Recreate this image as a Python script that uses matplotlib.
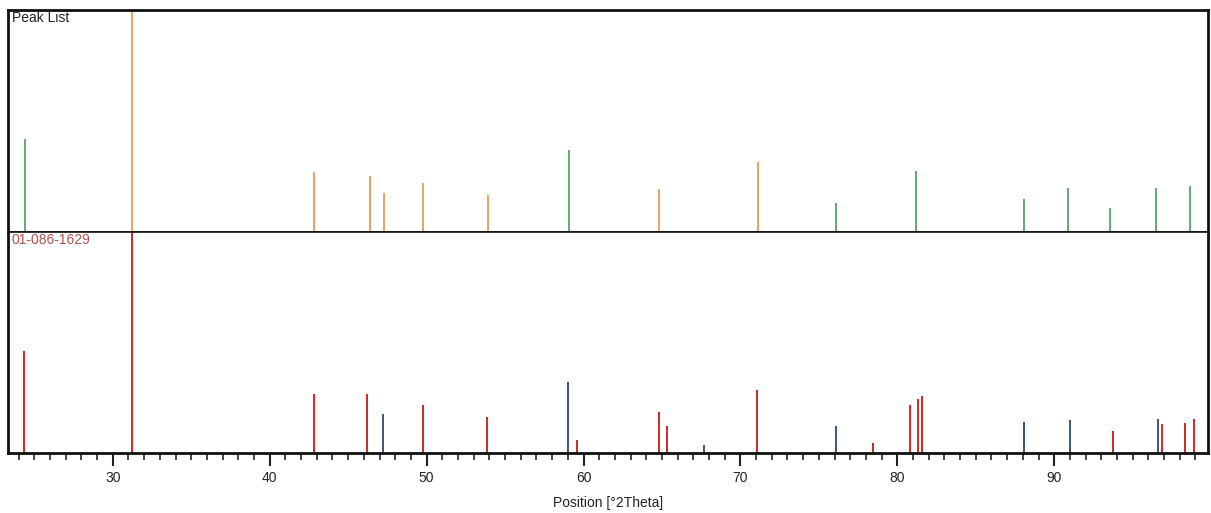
import numpy as np
import matplotlib.pyplot as plt

plt.rcParams['font.family'] = ['Liberation Sans', 'DejaVu Sans']

# Peak List (medido) - posição em °2Theta e intensidade relativa (%)
pico_pos = [24.4, 31.2, 42.8, 46.4, 47.3, 49.8, 53.9, 59.1, 64.8, 71.1,
            76.1, 81.2, 88.1, 90.9, 93.55, 96.5, 98.66]
pico_int = [42, 100, 27, 25.4, 17.7, 22.2, 16.7, 37, 19.2, 31.4,
            13.2, 27.5, 14.7, 19.7, 10.7, 20, 20.9]
pico_cor = ['g', 'o', 'o', 'o', 'o', 'o', 'o', 'g', 'o', 'o',
            'g', 'g', 'g', 'g', 'g', 'g', 'g']

# Padrão de referência 01-086-1629
ref_pos = [24.35, 31.2, 42.8, 46.2, 47.2, 49.77, 53.85, 59.04, 59.58, 64.84,
           65.33, 67.69, 71.08, 76.11, 78.43, 80.8, 81.29, 81.57, 88.1, 91.02,
           93.76, 96.6, 96.9, 98.34, 98.89]
ref_int = [46, 100, 26.6, 26.6, 17.6, 21.9, 16.1, 32.3, 6, 18.7,
           12, 3.8, 28.5, 12, 4.5, 21.9, 24.5, 25.6, 14, 15.1,
           10, 15.5, 13, 13.6, 15.5]
ref_cor = ['r', 'r', 'r', 'r', 'b', 'r', 'r', 'b', 'r', 'r',
           'r', 'b', 'r', 'b', 'r', 'r', 'r', 'r', 'b', 'b',
           'r', 'b', 'r', 'r', 'r']

cores = {'g': '#5aa06a', 'o': '#e0a050', 'r': '#c81818', 'b': '#2a4a78'}

fig = plt.figure(figsize=(12.11, 5.13), dpi=100)
ax1 = fig.add_axes([0.0066, 0.5478, 0.9909, 0.4327])
ax2 = fig.add_axes([0.0066, 0.1170, 0.9909, 0.4308], sharex=ax1)

ax1.vlines(pico_pos, 0, pico_int, colors=[cores[c] for c in pico_cor], linewidth=1.3)
ax2.vlines(ref_pos, 0, ref_int, colors=[cores[c] for c in ref_cor], linewidth=1.3)

for ax in (ax1, ax2):
    ax.set_ylim(0, 100)
    ax.set_yticks([])
    for s in ax.spines.values():
        s.set_linewidth(2)
        s.set_color('#111111')

ax1.set_xlim(23.32, 99.8)
ax1.spines['bottom'].set_linewidth(1.2)
ax2.spines['top'].set_linewidth(1.2)
ax1.tick_params(axis='x', which='both', bottom=False, labelbottom=False)

ax2.set_xticks(np.arange(30, 100, 10))
ax2.set_xticks(np.arange(24, 100, 1), minor=True)
ax2.tick_params(axis='x', which='major', direction='out', length=9, width=1.5,
                labelsize=10, colors='#222222', pad=4)
ax2.tick_params(axis='x', which='minor', direction='out', length=5, width=1.2,
                colors='#222222')
ax2.set_xlabel('Position [°2Theta]', fontsize=10, color='#222222', labelpad=8)

ax1.text(0.003, 0.995, 'Peak List', transform=ax1.transAxes, ha='left', va='top',
         fontsize=10, color='#222222')
ax2.text(0.003, 0.995, '01-086-1629', transform=ax2.transAxes, ha='left', va='top',
         fontsize=10, color='#b05050')

fig.savefig('out.png', dpi=100)
